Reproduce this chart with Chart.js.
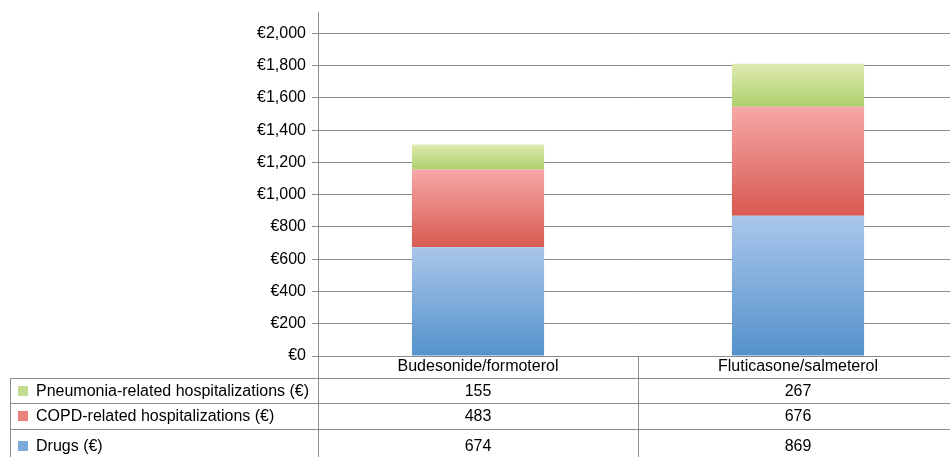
<!DOCTYPE html>
<html>
<head>
<meta charset="utf-8">
<script src="https://cdn.jsdelivr.net/npm/chart.js@4"></script>
<style>
  html, body { margin: 0; padding: 0; background: #fff; overflow: hidden; }
  #wrap { width: 958px; height: 457px; position: relative; }
</style>
</head>
<body>
<div id="wrap"><canvas id="costChart"></canvas></div>
<script>
// Chart data
const categories = ["Budesonide/formoterol", "Fluticasone/salmeterol"];
const drugs = [674, 869];
const copdHosp = [483, 676];
const pneumoniaHosp = [155, 267];
const yTickValues = [0, 200, 400, 600, 800, 1000, 1200, 1400, 1600, 1800, 2000];

const seriesLabels = ["Drugs (€)", "COPD-related hospitalizations (€)", "Pneumonia-related hospitalizations (€)"];

const FONT = "'Liberation Sans', Arial, sans-serif";
const LINE_COLOR = "#8c8c8c";

// gradient stops (top, bottom) per series
const gradStops = [
  ["#a9c6ea", "#5592cc"],
  ["#f6a8a6", "#d85a51"],
  ["#dfeab2", "#add06b"],
];
const swatchColors = ["#7eaadb", "#e8807b", "#c4dc8f"];
const seriesData = [drugs, copdHosp, pneumoniaHosp];

// Build a gradient that spans a single stacked segment
const segmentGradient = (dsIndex) => (ctx) => {
  const chart = ctx.chart;
  const { chartArea } = chart;
  const y = chart.scales.y;
  if (!chartArea || !y || ctx.type !== "data") return gradStops[dsIndex][1];
  const i = ctx.dataIndex;
  let base = 0;
  for (let d = 0; d < dsIndex; d++) base += seriesData[d][i];
  const top = y.getPixelForValue(base + seriesData[dsIndex][i]);
  const bottom = y.getPixelForValue(base);
  const g = chart.ctx.createLinearGradient(0, top, 0, bottom);
  g.addColorStop(0, gradStops[dsIndex][0]);
  g.addColorStop(1, gradStops[dsIndex][1]);
  return g;
};

// Data table drawn under the plot
const dataTablePlugin = {
  id: "dataTable",
  afterDraw(chart) {
    const { ctx, chartArea, scales } = chart;
    const x = scales.x;
    const axisBottom = chartArea.bottom;
    const canvasBottom = chart.height;
    const colW = x.getPixelForValue(1) - x.getPixelForValue(0);
    const catRowBottom = axisBottom + 22;
    const rowLines = [catRowBottom, catRowBottom + 25, catRowBottom + 51];
    const tableLeft = 10;

    ctx.save();
    ctx.strokeStyle = LINE_COLOR;
    ctx.lineWidth = 1;

    // vertical lines
    ctx.beginPath();
    ctx.moveTo(Math.round(chartArea.left) + 0.5, axisBottom);
    ctx.lineTo(Math.round(chartArea.left) + 0.5, canvasBottom);
    for (let i = 0; i < categories.length; i++) {
      const xr = Math.round(x.getPixelForValue(i) + colW / 2) + 0.5;
      ctx.moveTo(xr, axisBottom);
      ctx.lineTo(xr, canvasBottom);
    }
    ctx.moveTo(tableLeft + 0.5, catRowBottom);
    ctx.lineTo(tableLeft + 0.5, canvasBottom);
    // horizontal lines
    rowLines.forEach((ly) => {
      ctx.moveTo(tableLeft, Math.round(ly) + 0.5);
      ctx.lineTo(chart.width, Math.round(ly) + 0.5);
    });
    ctx.stroke();

    ctx.fillStyle = "#000";
    ctx.font = `16px ${FONT}`;
    ctx.textAlign = "center";
    ctx.textBaseline = "middle";
    categories.forEach((c, i) => {
      ctx.fillText(c, x.getPixelForValue(i), axisBottom + 11);
    });

    // rows: pneumonia, copd, drugs
    const rowOrder = [2, 1, 0];
    const rowCenters = [rowLines[0] + 14, rowLines[1] + 14, rowLines[2] + 18];
    rowOrder.forEach((s, r) => {
      const cy = rowCenters[r];
      ctx.fillStyle = swatchColors[s];
      ctx.fillRect(18, Math.round(cy - 6), 10, 10);
      ctx.fillStyle = "#000";
      ctx.textAlign = "left";
      ctx.fillText(seriesLabels[s], 36, cy);
      ctx.textAlign = "center";
      seriesData[s].forEach((v, i) => {
        ctx.fillText(String(v), x.getPixelForValue(i), cy);
      });
    });
    ctx.restore();
  },
};

const ctx = document.getElementById("costChart").getContext("2d");
new Chart(ctx, {
  type: "bar",
  data: {
    labels: categories,
    datasets: seriesData.map((data, k) => ({
      label: seriesLabels[k],
      data: data,
      backgroundColor: segmentGradient(k),
      borderWidth: 0,
      categoryPercentage: 1,
      barPercentage: 0.413,
    })),
  },
  options: {
    responsive: true,
    maintainAspectRatio: false,
    animation: false,
    layout: { padding: { top: 12, right: 0, bottom: 101, left: 0 } },
    plugins: {
      legend: { display: false },
      tooltip: { enabled: false },
    },
    scales: {
      x: {
        stacked: true,
        display: false,
      },
      y: {
        stacked: true,
        min: 0,
        max: 2133,
        afterBuildTicks: (scale) => {
          scale.ticks = yTickValues.map((v) => ({ value: v }));
        },
        afterFit: (scale) => {
          scale.width = 318;
          scale.paddingTop = 0;
          scale.paddingBottom = 0;
        },
        grid: {
          color: LINE_COLOR,
          lineWidth: 1,
          tickLength: 6,
          drawTicks: true,
        },
        border: { color: LINE_COLOR, width: 1 },
        ticks: {
          color: "#000",
          padding: 6,
          font: { family: FONT, size: 16 },
          callback: (v) => "€" + Number(v).toLocaleString("en-US"),
        },
      },
    },
  },
  plugins: [dataTablePlugin],
});
</script>
</body>
</html>
